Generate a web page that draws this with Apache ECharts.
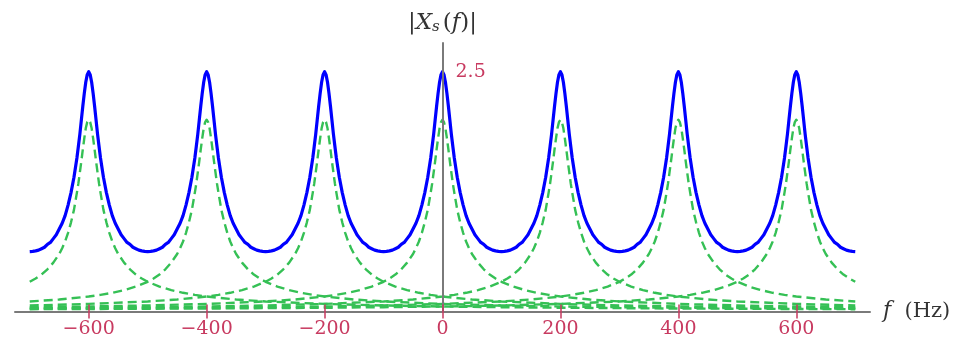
<!DOCTYPE html>
<html>
<head>
<meta charset="utf-8">
<script src="https://cdn.jsdelivr.net/npm/echarts@6/dist/echarts.min.js"></script>
<style>
  html, body { margin: 0; padding: 0; background: #fff; }
  #chart { width: 958px; height: 343px; }
</style>
</head>
<body>
<div id="chart"></div>
<script>
// peaks of the shifted copies (Hz)
const greenCenters = [-600, -400, -200, 0, 200, 400, 600];
// one dashed copy: distance from its peak (Hz) -> |X|
const greenOffsets = [0, 2.5, 5, 7.5, 10, 12.5, 15, 17.5, 20, 25, 30, 35, 40, 45, 50, 60, 70, 80, 90, 100, 120, 140, 160, 180, 200, 250, 300, 400, 500, 600, 700, 800, 900, 1000, 1100, 1200, 1300];
const greenValues = [2.00, 1.975, 1.91, 1.805, 1.69, 1.565, 1.45, 1.336, 1.24, 1.06, 0.93, 0.82, 0.73, 0.66, 0.60, 0.51, 0.44, 0.385, 0.344, 0.31, 0.26, 0.223, 0.195, 0.174, 0.156, 0.125, 0.105, 0.079, 0.063, 0.052, 0.045, 0.039, 0.035, 0.031, 0.029, 0.026, 0.024];
// one period of the solid curve, distance from nearest peak (Hz) -> |Xs|
const blueOffsets = [0, 2.5, 5, 7.5, 10, 12.5, 15, 17.5, 20, 25, 30, 35, 40, 45, 50, 55, 60, 65, 70, 75, 80, 85, 90, 95, 100];
const blueValues = [2.50, 2.47, 2.39, 2.275, 2.14, 1.995, 1.85, 1.723, 1.60, 1.40, 1.24, 1.11, 1.00, 0.92, 0.86, 0.80, 0.76, 0.72, 0.70, 0.67, 0.655, 0.64, 0.632, 0.627, 0.625];
const tickValues = [-600, -400, -200, 0, 200, 400, 600];
const yTickValues = [2.5];

const fMin = -700, fMax = 700;
const labelColor = '#c83a60';
const serif = 'DejaVu Serif';

// mirror a one-sided profile around a center
function mirrored(center, offs, vals) {
  let pts = [];
  for (let i = offs.length - 1; i > 0; i--) pts.push([center - offs[i], vals[i]]);
  for (let i = 0; i < offs.length; i++) pts.push([center + offs[i], vals[i]]);
  return pts.filter(p => p[0] >= fMin && p[0] <= fMax);
}

let series = [];
greenCenters.forEach(function (c) {
  series.push({
    type: 'line',
    data: mirrored(c, greenOffsets, greenValues),
    showSymbol: false,
    silent: true,
    lineStyle: { color: '#35c055', width: 2.4, type: [9, 5], join: 'round' },
    z: 2
  });
});

let blueData = [];
greenCenters.forEach(function (c) {
  mirrored(c, blueOffsets, blueValues).forEach(function (p) {
    if (!blueData.length || blueData[blueData.length - 1][0] < p[0]) blueData.push(p);
  });
});
series.push({
  type: 'line',
  data: blueData,
  showSymbol: false,
  silent: true,
  lineStyle: { color: '#0000ff', width: 3.2, join: 'round' },
  z: 3
});

var myChart = echarts.init(document.getElementById('chart'));
myChart.setOption({
  animation: false,
  grid: { left: 15, right: 88, top: 43, bottom: 31.5 },
  xAxis: [
    {
      type: 'value',
      min: -725,
      max: 725,
      name: '{i|f}  (Hz)',
      nameLocation: 'end',
      nameGap: 13,
      nameTextStyle: {
        fontFamily: serif, fontSize: 21, color: '#333',
        rich: { i: { fontFamily: serif, fontStyle: 'italic', fontSize: 22, color: '#333' } }
      },
      axisLine: { show: true, onZero: false, lineStyle: { color: '#7a7a7a', width: 2 } },
      axisTick: { show: true, customValues: tickValues, length: 7, lineStyle: { color: labelColor, width: 1.5 } },
      axisLabel: {
        customValues: tickValues,
        margin: 8,
        fontFamily: serif,
        fontSize: 19,
        color: labelColor,
        formatter: function (v) { return v < 0 ? '\u2212' + Math.abs(v) : String(v); }
      },
      splitLine: { show: false },
      z: 5
    },
    {
      type: 'value',
      min: -725,
      max: 725,
      position: 'bottom',
      axisLine: { show: false },
      axisTick: { show: true, inside: true, customValues: tickValues, length: 7, lineStyle: { color: labelColor, width: 1.5 } },
      axisLabel: { show: false },
      splitLine: { show: false },
      z: 5
    }
  ],
  yAxis: {
    type: 'value',
    min: 0,
    max: 2.8,
    position: 'left',
    offset: -427.5,
    name: '|{i|X}{s|s}({i|f})|',
    nameLocation: 'end',
    nameGap: 8,
    nameTextStyle: {
      fontFamily: serif, fontSize: 23, color: '#333', align: 'center',
      rich: {
        i: { fontFamily: serif, fontStyle: 'italic', fontSize: 23, color: '#333' },
        s: { fontFamily: serif, fontStyle: 'italic', fontSize: 15, color: '#333', verticalAlign: 'bottom', padding: [9, 3, 0, 0] }
      }
    },
    axisLine: { show: true, onZero: false, lineStyle: { color: '#7a7a7a', width: 2 } },
    axisTick: { show: false },
    axisLabel: {
      customValues: yTickValues,
      inside: true,
      margin: 13,
      fontFamily: serif,
      fontSize: 19,
      color: labelColor,
      padding: [0, 0, 10, 0]
    },
    splitLine: { show: false },
    z: 5
  },
  series: series
});
</script>
</body>
</html>
